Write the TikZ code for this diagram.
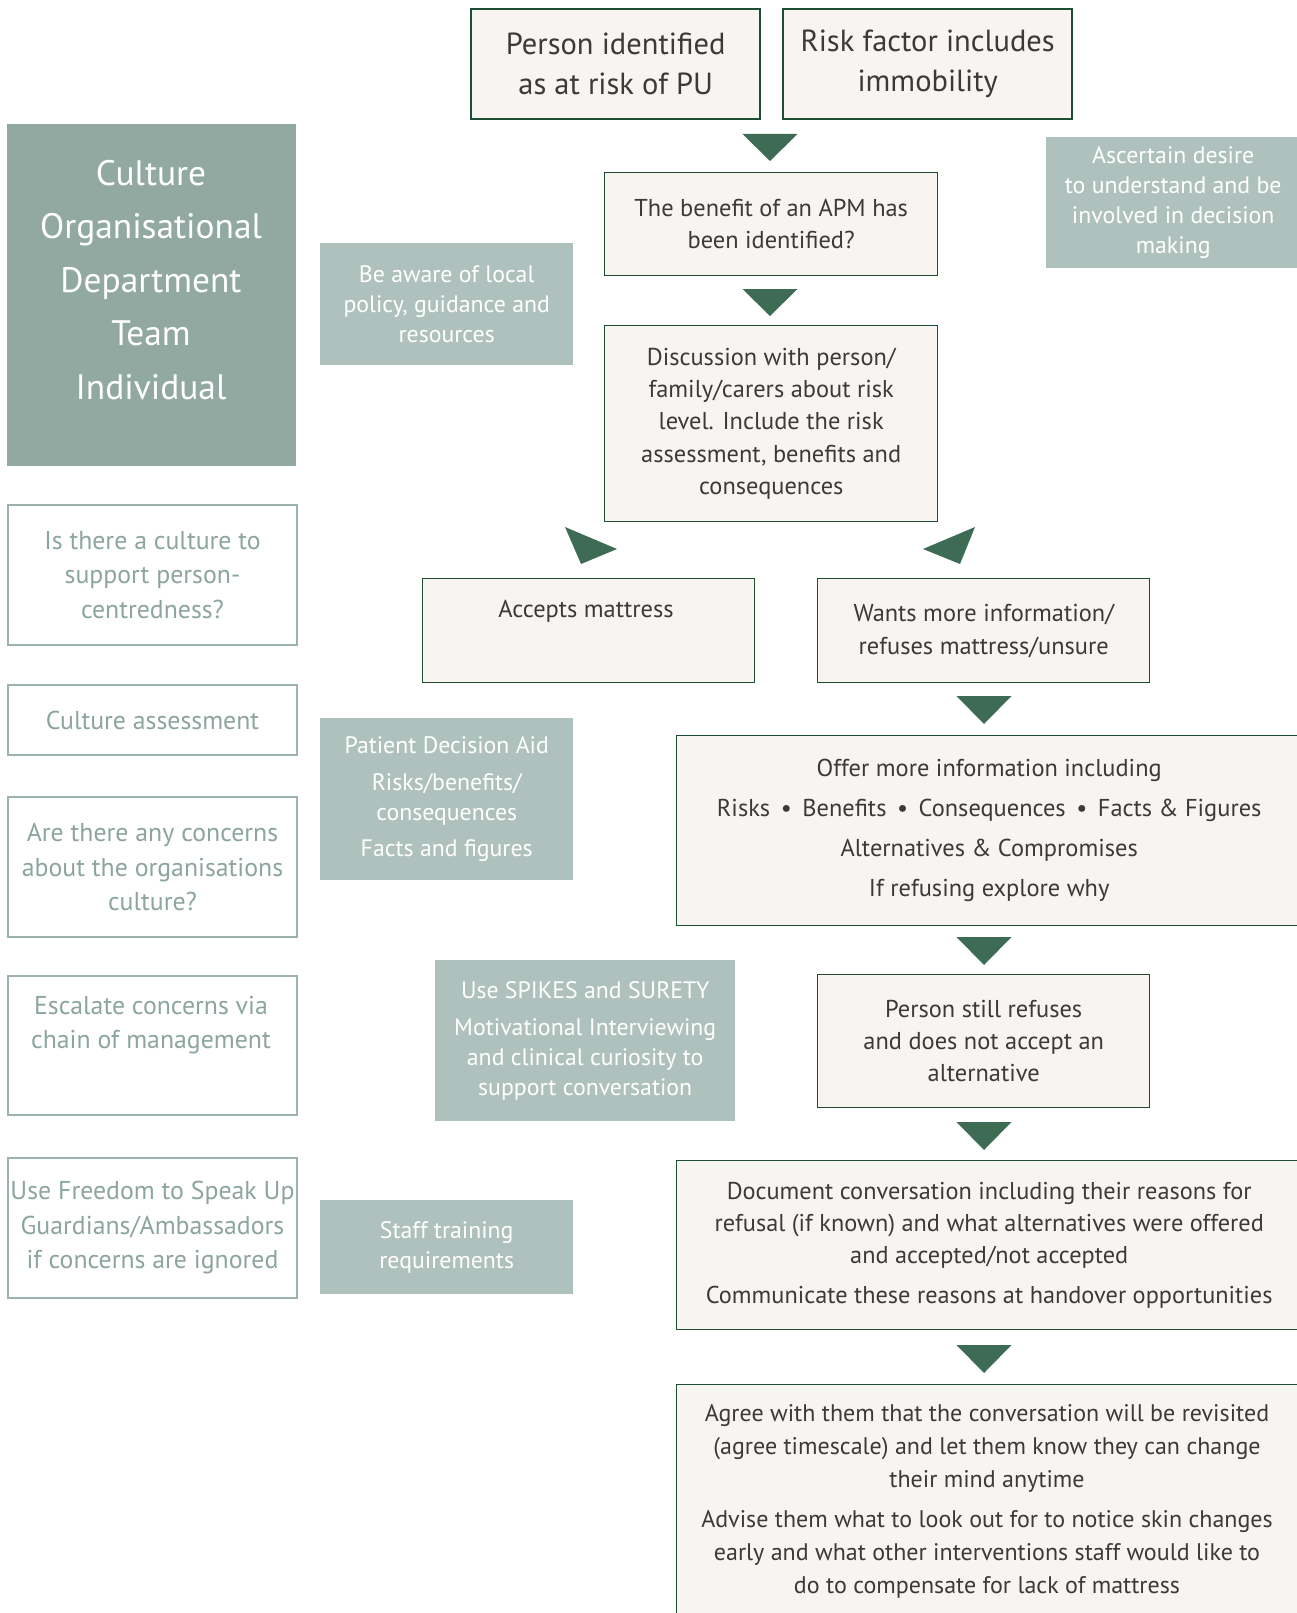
\documentclass[tikz,border=0pt]{standalone}
\usepackage{fontspec}
\setmainfont{PT Sans}
\definecolor{dgreen}{HTML}{1E4D32}
\definecolor{trigreen}{HTML}{3D6B53}
\definecolor{boxfill}{HTML}{F7F4F2}
\definecolor{culturefill}{HTML}{91A9A1}
\definecolor{lightfill}{HTML}{AFC1BC}
\definecolor{outline}{HTML}{9DB2AB}
\definecolor{outtext}{HTML}{8CA59D}
\definecolor{txt}{HTML}{3A3A3A}
\newcommand{\fsz}[2]{\fontsize{#1}{#2}\selectfont}
\begin{document}
\begin{tikzpicture}[x=1pt,y=-1pt,
  flow/.style={draw=dgreen, line width=1.4pt, fill=boxfill, text=txt, align=center, inner sep=0pt, anchor=north west},
  topbox/.style={flow, line width=2.4pt},
  light/.style={fill=lightfill, text=white, align=center, inner sep=0pt, anchor=north west},
  outbox/.style={draw=outline, line width=2pt, fill=white, text=outtext, align=center, inner sep=0pt, anchor=north west},
  lbl/.style={align=center, inner sep=0pt},
  tri/.style={fill=trigreen}]
\useasboundingbox (0,0) rectangle (1297,1613);

% top boxes
\node[topbox, minimum width=289, minimum height=110, font=\fsz{30.5}{40}] (p1) at (470,8) {Person identified\\as at risk of PU};
\node[topbox, minimum width=289, minimum height=110, font=\fsz{30.5}{40}] (p2) at (782,8) {Risk factor includes\\immobility};

\node[flow, minimum width=333, minimum height=103, font=\fsz{24.4}{32}] (benefit) at (604,172) {The benefit of an APM has\\been identified?};
\node[light, minimum width=254, minimum height=131, font=\fsz{23.8}{30}] (ascertain) at (1046,137) {Ascertain desire\\to understand and be\\involved in decision\\making};

\node[flow, minimum width=333, minimum height=196, font=\fsz{24.4}{32.4}] (discuss) at (604,325) {Discussion with person/\\family/carers about risk\\level. Include the risk\\assessment, benefits and\\consequences};

% left culture box
\node[fill=culturefill, minimum width=289, minimum height=342, anchor=north west, inner sep=0pt] (culture) at (7,124) {};
\node[lbl, text=white, font=\fsz{35.4}{53.5}] (culturetxt) at (151,280) {Culture\\Organisational\\Department\\Team\\Individual};

\node[light, minimum width=253, minimum height=122, font=\fsz{23.8}{30}] (aware) at (320,243) {Be aware of local\\policy, guidance and\\resources};

% decision boxes
\node[flow, minimum width=332, minimum height=104] (accepts) at (422,578) {};
\node[lbl, text=txt, font=\fsz{24.4}{32}] (acceptstxt) at (586,611) {Accepts mattress};
\node[flow, minimum width=332, minimum height=104, font=\fsz{24.4}{33}] (wants) at (817,578) {Wants more information/\\refuses mattress/unsure};

% left outline boxes
\node[outbox, minimum width=289, minimum height=140, font=\fsz{25.8}{34.5}] (support) at (7,504) {Is there a culture to\\support person-\\centredness?};
\node[outbox, minimum width=289, minimum height=70, font=\fsz{25.8}{34.5}] (assess) at (7,684) {Culture assessment};
\node[outbox, minimum width=289, minimum height=140, font=\fsz{25.8}{34.5}] (concerns) at (7,796) {Are there any concerns\\about the organisations\\culture?};
\node[outbox, minimum width=289, minimum height=139] (escalate) at (7,975) {};
\node[lbl, text=outtext, font=\fsz{25.8}{34.5}] (escalatetxt) at (151,1025) {Escalate concerns via\\chain of management};
\node[outbox, minimum width=289, minimum height=140, font=\fsz{25.8}{34.5}] (freedom) at (7,1157) {Use Freedom to Speak Up\\Guardians/Ambassadors\\if concerns are ignored};

% middle light boxes
\node[light, minimum width=253, minimum height=162, font=\fsz{23.8}{30}] (pda) at (320,718) {Patient Decision Aid\\[7pt]Risks/benefits/\\consequences\\[6pt]Facts and figures};
\node[light, minimum width=300, minimum height=161, font=\fsz{23.8}{30}] (spikes) at (435,960) {Use SPIKES and SURETY\\[7pt]Motivational Interviewing\\and clinical curiosity to\\support conversation};
\node[light, minimum width=253, minimum height=94, font=\fsz{23.8}{30}] (training) at (320,1200) {Staff training\\requirements};

% right column
\node[flow, minimum width=625, minimum height=190, font=\fsz{24.4}{40}] (offer) at (676,735) {Offer more information including\\Risks \,\textbullet\, Benefits \,\textbullet\, Consequences \,\textbullet\, Facts \& Figures\\Alternatives \& Compromises\\If refusing explore why};
\node[flow, minimum width=332, minimum height=133, font=\fsz{24.4}{32}] (still) at (817,974) {Person still refuses\\and does not accept an\\alternative};
\node[flow, minimum width=625, minimum height=169, font=\fsz{24.3}{32}] (document) at (676,1160) {Document conversation including their reasons for\\refusal (if known) and what alternatives were offered\\and accepted/not accepted\\[8pt]Communicate these reasons at handover opportunities};
\node[flow, minimum width=625, minimum height=240] (agree) at (676,1384) {};
\node[lbl, text=txt, font=\fsz{24}{33}] (agreetxt) at (987,1501) {Agree with them that the conversation will be revisited\\(agree timescale) and let them know they can change\\their mind anytime\\[7pt]Advise them what to look out for to notice skin changes\\early and what other interventions staff would like to\\do to compensate for lack of mattress};

% triangles
\fill[tri] (742.5,134) -- (797.5,134) -- (770,161) -- cycle;
\fill[tri] (742.5,289) -- (797.5,289) -- (770,316) -- cycle;
\fill[tri] (565,527) -- (617,549) -- (581,564) -- cycle;
\fill[tri] (975,527) -- (923,549) -- (960,564) -- cycle;
\fill[tri] (956.5,696) -- (1011.5,696) -- (984,724) -- cycle;
\fill[tri] (956.5,937) -- (1011.5,937) -- (984,965) -- cycle;
\fill[tri] (956.5,1122) -- (1011.5,1122) -- (984,1150) -- cycle;
\fill[tri] (956.5,1345) -- (1011.5,1345) -- (984,1373) -- cycle;
\end{tikzpicture}
\end{document}
